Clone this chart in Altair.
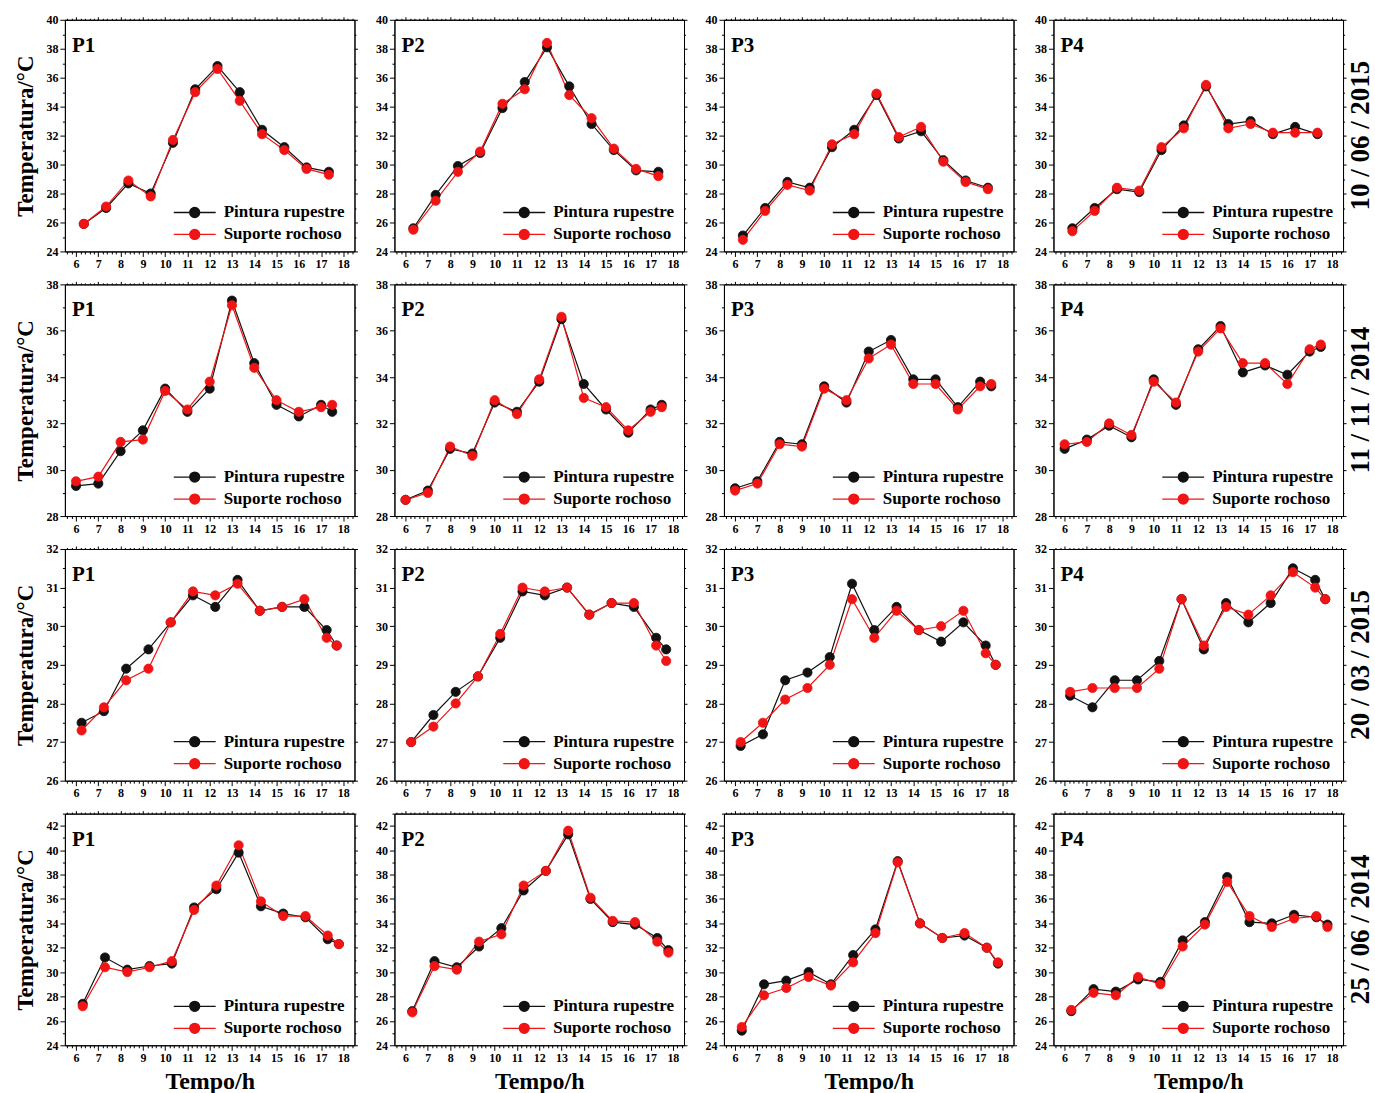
import altair as alt
import pandas as pd

SERIF = "Liberation Serif"
SERIES = ["Pintura rupestre", "Suporte rochoso"]
COLORS = ["#111111", "#f01414"]
PANELS = ["P1", "P2", "P3", "P4"]
DATES = ["10 / 06 / 2015", "11 / 11 / 2014", "20 / 03 / 2015", "25 / 06 / 2014"]

# Measurement times (h) for each campaign
times_2015_06 = [6.35, 7.35, 8.35, 9.35, 10.35, 11.35, 12.35, 13.35, 14.35, 15.35, 16.35, 17.35]
times_2014_11 = [6, 7, 8, 9, 10, 11, 12, 13, 14, 15, 16, 17, 17.5]
times_2015_03 = [6.25, 7.25, 8.25, 9.25, 10.25, 11.25, 12.25, 13.25, 14.25, 15.25, 16.25, 17.25, 17.7]
times_2014_06 = [6.3, 7.3, 8.3, 9.3, 10.3, 11.3, 12.3, 13.3, 14.3, 15.3, 16.3, 17.3, 17.8]

# 10/06/2015 — temperatures (°C) for P1..P4
pintura_2015_06 = [
    [25.9, 27.0, 28.7, 28.0, 31.5, 35.2, 36.8, 35.0, 32.4, 31.2, 29.8, 29.5],
    [25.6, 27.9, 29.9, 30.8, 33.9, 35.7, 38.1, 35.4, 32.8, 31.0, 29.6, 29.5],
    [25.1, 27.0, 28.8, 28.4, 31.2, 32.4, 34.8, 31.8, 32.3, 30.3, 28.9, 28.4],
    [25.6, 27.0, 28.3, 28.1, 31.0, 32.7, 35.4, 32.8, 33.0, 32.1, 32.6, 32.1],
]
suporte_2015_06 = [
    [25.9, 27.1, 28.9, 27.8, 31.7, 35.0, 36.6, 34.4, 32.1, 31.0, 29.7, 29.3],
    [25.5, 27.5, 29.5, 30.9, 34.2, 35.2, 38.4, 34.8, 33.2, 31.1, 29.7, 29.2],
    [24.8, 26.8, 28.6, 28.2, 31.4, 32.1, 34.9, 31.9, 32.6, 30.2, 28.8, 28.3],
    [25.4, 26.8, 28.4, 28.2, 31.2, 32.5, 35.5, 32.5, 32.8, 32.2, 32.2, 32.2],
]

# 11/11/2014
pintura_2014_11 = [
    [29.3, 29.4, 30.8, 31.7, 33.5, 32.5, 33.5, 37.3, 34.6, 32.8, 32.3, 32.8, 32.5],
    [28.7, 29.1, 30.9, 30.7, 32.9, 32.5, 33.8, 36.5, 33.7, 32.6, 31.6, 32.6, 32.8],
    [29.2, 29.5, 31.2, 31.1, 33.6, 32.9, 35.1, 35.6, 33.9, 33.9, 32.7, 33.8, 33.6],
    [30.9, 31.3, 31.9, 31.4, 33.9, 32.8, 35.2, 36.2, 34.2, 34.5, 34.1, 35.1, 35.3],
]
suporte_2014_11 = [
    [29.5, 29.7, 31.2, 31.3, 33.4, 32.6, 33.8, 37.1, 34.4, 33.0, 32.5, 32.7, 32.8],
    [28.7, 29.0, 31.0, 30.6, 33.0, 32.4, 33.9, 36.6, 33.1, 32.7, 31.7, 32.5, 32.7],
    [29.1, 29.4, 31.1, 31.0, 33.5, 33.0, 34.8, 35.4, 33.7, 33.7, 32.6, 33.6, 33.7],
    [31.1, 31.2, 32.0, 31.5, 33.8, 32.9, 35.1, 36.1, 34.6, 34.6, 33.7, 35.2, 35.4],
]

# 20/03/2015
pintura_2015_03 = [
    [27.5, 27.8, 28.9, 29.4, 30.1, 30.8, 30.5, 31.2, 30.4, 30.5, 30.5, 29.9, 29.5],
    [27.0, 27.7, 28.3, 28.7, 29.7, 30.9, 30.8, 31.0, 30.3, 30.6, 30.5, 29.7, 29.4],
    [26.9, 27.2, 28.6, 28.8, 29.2, 31.1, 29.9, 30.5, 29.9, 29.6, 30.1, 29.5, 29.0],
    [28.2, 27.9, 28.6, 28.6, 29.1, 30.7, 29.4, 30.6, 30.1, 30.6, 31.5, 31.2, 30.7],
]
suporte_2015_03 = [
    [27.3, 27.9, 28.6, 28.9, 30.1, 30.9, 30.8, 31.1, 30.4, 30.5, 30.7, 29.7, 29.5],
    [27.0, 27.4, 28.0, 28.7, 29.8, 31.0, 30.9, 31.0, 30.3, 30.6, 30.6, 29.5, 29.1],
    [27.0, 27.5, 28.1, 28.4, 29.0, 30.7, 29.7, 30.4, 29.9, 30.0, 30.4, 29.3, 29.0],
    [28.3, 28.4, 28.4, 28.4, 28.9, 30.7, 29.5, 30.5, 30.3, 30.8, 31.4, 31.0, 30.7],
]

# 25/06/2014
pintura_2014_06 = [
    [27.4, 31.2, 30.2, 30.5, 30.7, 35.3, 36.8, 39.8, 35.4, 34.8, 34.5, 32.7, 32.3],
    [26.8, 30.9, 30.4, 32.1, 33.6, 36.7, 38.3, 41.3, 36.0, 34.1, 33.9, 32.8, 31.8],
    [25.2, 29.0, 29.3, 30.0, 29.0, 31.4, 33.5, 39.1, 34.0, 32.8, 33.0, 32.0, 30.7],
    [26.8, 28.6, 28.4, 29.4, 29.2, 32.6, 34.1, 37.8, 34.1, 34.0, 34.7, 34.5, 33.9],
]
suporte_2014_06 = [
    [27.2, 30.4, 30.0, 30.4, 30.9, 35.1, 37.1, 40.4, 35.8, 34.6, 34.6, 33.0, 32.3],
    [26.7, 30.5, 30.2, 32.5, 33.1, 37.1, 38.3, 41.6, 36.1, 34.2, 34.1, 32.5, 31.6],
    [25.5, 28.1, 28.7, 29.6, 28.9, 30.8, 33.2, 39.0, 34.0, 32.8, 33.2, 32.0, 30.8],
    [26.9, 28.3, 28.1, 29.6, 29.0, 32.1, 33.9, 37.4, 34.6, 33.7, 34.4, 34.6, 33.7],
]

ROWS = [
    (times_2015_06, pintura_2015_06, suporte_2015_06, (24, 40), 2, 1),
    (times_2014_11, pintura_2014_11, suporte_2014_11, (28, 38), 2, 1),
    (times_2015_03, pintura_2015_03, suporte_2015_03, (26, 32), 1, 0.5),
    (times_2014_06, pintura_2014_06, suporte_2014_06, (24, 43), 2, 1),
]

X_DOMAIN = (5.5, 18.5)
W, H = 290, 232

# Legend symbol: a short line with a dot in the middle
LEG_PATH = "M-2.1,0L2.1,0M0.5,0A0.5,0.5,0,1,1,-0.5,0A0.5,0.5,0,1,1,0.5,0Z"


def steps(lo, hi, step):
    n = int(round((hi - lo) / step))
    return [round(lo + i * step, 2) for i in range(n + 1)]


X_TICKS = steps(5.6, 18.4, 0.2)


def panel(r, c):
    times, pint, sup, (lo, hi), major, minor = ROWS[r]
    df = pd.DataFrame(
        {
            "t": list(times) + list(times),
            "v": pint[c] + sup[c],
            "s": [SERIES[0]] * len(times) + [SERIES[1]] * len(times),
        }
    )
    y_ticks = steps(lo, hi, minor)
    x_major = "datum.value % 1 === 0"
    y_major = f"(datum.value - {lo}) % {major} === 0"

    xs = alt.Scale(domain=list(X_DOMAIN), nice=False, zero=False)
    ys = alt.Scale(domain=[lo, hi], nice=False, zero=False)

    last_row = r == len(ROWS) - 1
    ax_bottom = alt.Axis(
        values=X_TICKS,
        tickSize={"condition": {"test": x_major, "value": 5}, "value": 2.5},
        labelExpr=f"{x_major} ? format(datum.value, 'd') : ''",
        labelOverlap=False,
        labelFlush=False,
        labelPadding=2,
        title="Tempo/h" if last_row else None,
        titleFont=SERIF,
        titleFontSize=24,
        titleFontWeight="bold",
        titleColor="black",
        titlePadding=6,
    )
    ax_left = alt.Axis(
        values=y_ticks,
        tickSize={"condition": {"test": y_major, "value": 5}, "value": 2.5},
        labelExpr=f"{y_major} ? format(datum.value, 'd') : ''",
        labelOverlap=False,
        labelFlush=False,
        labelPadding=2,
        title="Temperatura/°C" if c == 0 else None,
        titleFont=SERIF,
        titleFontSize=23,
        titleFontWeight="bold",
        titleColor="black",
        titlePadding=8,
    )
    ax_top = alt.Axis(
        orient="top",
        values=X_TICKS,
        tickSize={"condition": {"test": x_major, "value": 3}, "value": 1.5},
        labels=False,
        title=None,
    )
    ax_right = alt.Axis(
        orient="right",
        values=y_ticks,
        tickSize={"condition": {"test": y_major, "value": 3}, "value": 1.5},
        labels=False,
        title=None,
    )

    legend = alt.Legend(
        title=None,
        orient="bottom-right",
        offset=9,
        padding=0,
        symbolType=LEG_PATH,
        symbolSize=400,
        symbolStrokeWidth=1.3,
        symbolOpacity=1,
        labelFont=SERIF,
        labelFontSize=17,
        labelFontWeight="bold",
        labelColor="black",
        labelOffset=18,
        labelLimit=0,
        rowPadding=3,
    )
    cscale = alt.Scale(domain=SERIES, range=COLORS)

    base = alt.Chart(df)
    lines = base.mark_line(strokeWidth=1.2).encode(
        x=alt.X("t:Q", scale=xs, axis=ax_bottom),
        y=alt.Y("v:Q", scale=ys, axis=ax_left),
        color=alt.Color("s:N", scale=cscale, legend=None),
    )
    points = base.mark_point(filled=True, size=85, opacity=1, strokeWidth=0.8).encode(
        x=alt.X("t:Q", scale=xs, axis=ax_top),
        y=alt.Y("v:Q", scale=ys, axis=ax_right),
        fill=alt.Fill("s:N", scale=cscale, legend=legend),
        stroke=alt.Stroke("s:N", scale=cscale, legend=legend),
    )
    label = (
        alt.Chart(pd.DataFrame({"p": [PANELS[c]]}))
        .mark_text(
            font=SERIF, fontSize=21, fontWeight="bold", color="black",
            align="left", baseline="middle",
        )
        .encode(text="p:N", x=alt.value(7), y=alt.value(26))
    )
    layers = [lines, points, label]
    if c == 3:
        date = (
            alt.Chart(pd.DataFrame({"d": [DATES[r]]}))
            .mark_text(
                font=SERIF, fontSize=27, fontWeight="bold", color="black",
                align="center", baseline="middle", angle=270,
            )
            .encode(text="d:N", x=alt.value(W + 18), y=alt.value(H / 2))
        )
        layers.append(date)
    return (
        alt.layer(*layers)
        .resolve_axis(x="independent", y="independent")
        .properties(width=W, height=H)
    )


rows = [
    alt.hconcat(*[panel(r, c) for c in range(4)], spacing=16)
    .resolve_legend(fill="independent", stroke="independent")
    for r in range(4)
]

chart = (
    alt.vconcat(*rows, spacing=7)
    .resolve_legend(fill="independent", stroke="independent")
    .properties(padding={"left": 14, "top": 12, "right": 0, "bottom": 0}, background="white")
    .configure_view(stroke="black", strokeWidth=1)
    .configure_axis(
        domainColor="black",
        domainWidth=1,
        tickColor="black",
        tickWidth=1,
        labelColor="black",
        labelFont=SERIF,
        labelFontSize=12,
        labelFontWeight="bold",
        grid=False,
    )
)

chart.save("out.html", embed_options={"renderer": "svg", "actions": False})
